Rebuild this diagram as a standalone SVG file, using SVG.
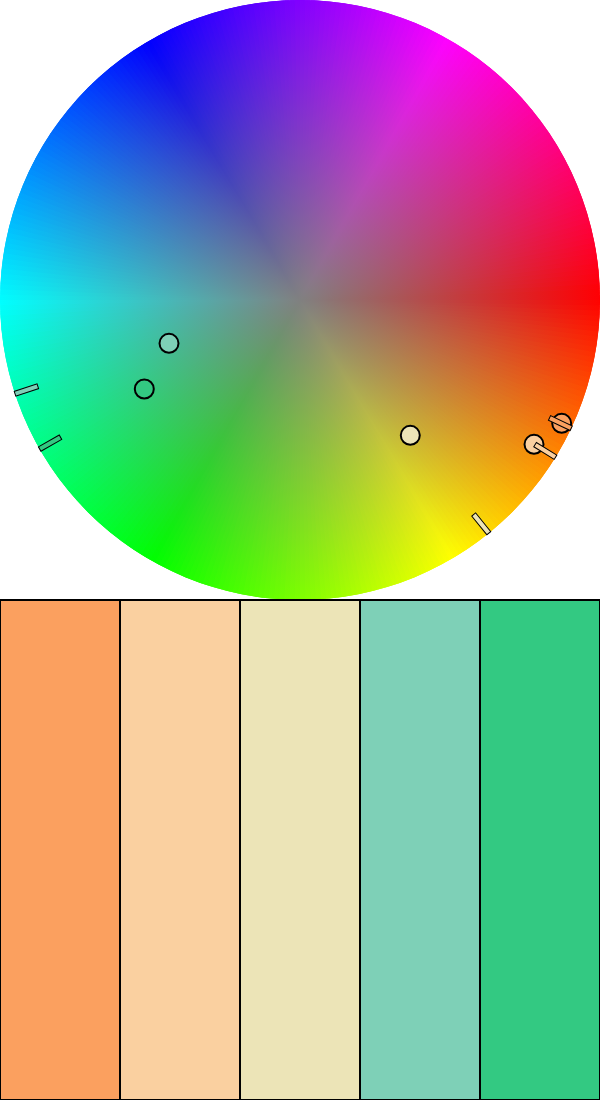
<svg xmlns="http://www.w3.org/2000/svg" xmlns:xlink="http://www.w3.org/1999/xlink" width="600" height="1100" viewBox="0 0 600 1100">
<style>
.mk{stroke:#000;stroke-width:2}
.bar{stroke:#000;stroke-width:1}
.sw{stroke:#000;stroke-width:2}
</style>
<defs>
<clipPath id="wc"><circle cx="300" cy="300" r="300"/></clipPath>
<radialGradient id="gray" cx="300" cy="300" r="300" gradientUnits="userSpaceOnUse">
<stop offset="0" stop-color="#808080" stop-opacity="1"/>
<stop offset="1" stop-color="#808080" stop-opacity="0"/>
</radialGradient>
<path id="w" d="M300,300L600.5,294.75A300.5,300.5 0 0 1 600.5,305.25Z"/>
</defs>

<g id="wheel" clip-path="url(#wc)">
<use href="#w" transform="rotate(0 300 300)" fill="hsl(0,100%,50%)"/>
<use href="#w" transform="rotate(1 300 300)" fill="hsl(1,100%,50%)"/>
<use href="#w" transform="rotate(2 300 300)" fill="hsl(2,100%,50%)"/>
<use href="#w" transform="rotate(3 300 300)" fill="hsl(3,100%,50%)"/>
<use href="#w" transform="rotate(4 300 300)" fill="hsl(4,100%,50%)"/>
<use href="#w" transform="rotate(5 300 300)" fill="hsl(5,100%,50%)"/>
<use href="#w" transform="rotate(6 300 300)" fill="hsl(6,100%,50%)"/>
<use href="#w" transform="rotate(7 300 300)" fill="hsl(7,100%,50%)"/>
<use href="#w" transform="rotate(8 300 300)" fill="hsl(8,100%,50%)"/>
<use href="#w" transform="rotate(9 300 300)" fill="hsl(9,100%,50%)"/>
<use href="#w" transform="rotate(10 300 300)" fill="hsl(10,100%,50%)"/>
<use href="#w" transform="rotate(11 300 300)" fill="hsl(11,100%,50%)"/>
<use href="#w" transform="rotate(12 300 300)" fill="hsl(12,100%,50%)"/>
<use href="#w" transform="rotate(13 300 300)" fill="hsl(13,100%,50%)"/>
<use href="#w" transform="rotate(14 300 300)" fill="hsl(14,100%,50%)"/>
<use href="#w" transform="rotate(15 300 300)" fill="hsl(15,100%,50%)"/>
<use href="#w" transform="rotate(16 300 300)" fill="hsl(16,100%,50%)"/>
<use href="#w" transform="rotate(17 300 300)" fill="hsl(17,100%,50%)"/>
<use href="#w" transform="rotate(18 300 300)" fill="hsl(18,100%,50%)"/>
<use href="#w" transform="rotate(19 300 300)" fill="hsl(19,100%,50%)"/>
<use href="#w" transform="rotate(20 300 300)" fill="hsl(20,100%,50%)"/>
<use href="#w" transform="rotate(21 300 300)" fill="hsl(21,100%,50%)"/>
<use href="#w" transform="rotate(22 300 300)" fill="hsl(22,100%,50%)"/>
<use href="#w" transform="rotate(23 300 300)" fill="hsl(23,100%,50%)"/>
<use href="#w" transform="rotate(24 300 300)" fill="hsl(24,100%,50%)"/>
<use href="#w" transform="rotate(25 300 300)" fill="hsl(25,100%,50%)"/>
<use href="#w" transform="rotate(26 300 300)" fill="hsl(26,100%,50%)"/>
<use href="#w" transform="rotate(27 300 300)" fill="hsl(27,100%,50%)"/>
<use href="#w" transform="rotate(28 300 300)" fill="hsl(28,100%,50%)"/>
<use href="#w" transform="rotate(29 300 300)" fill="hsl(29,100%,50%)"/>
<use href="#w" transform="rotate(30 300 300)" fill="hsl(30,100%,50%)"/>
<use href="#w" transform="rotate(31 300 300)" fill="hsl(31,100%,50%)"/>
<use href="#w" transform="rotate(32 300 300)" fill="hsl(32,100%,50%)"/>
<use href="#w" transform="rotate(33 300 300)" fill="hsl(33,100%,50%)"/>
<use href="#w" transform="rotate(34 300 300)" fill="hsl(34,100%,50%)"/>
<use href="#w" transform="rotate(35 300 300)" fill="hsl(35,100%,50%)"/>
<use href="#w" transform="rotate(36 300 300)" fill="hsl(36,100%,50%)"/>
<use href="#w" transform="rotate(37 300 300)" fill="hsl(37,100%,50%)"/>
<use href="#w" transform="rotate(38 300 300)" fill="hsl(38,100%,50%)"/>
<use href="#w" transform="rotate(39 300 300)" fill="hsl(39,100%,50%)"/>
<use href="#w" transform="rotate(40 300 300)" fill="hsl(40,100%,50%)"/>
<use href="#w" transform="rotate(41 300 300)" fill="hsl(41,100%,50%)"/>
<use href="#w" transform="rotate(42 300 300)" fill="hsl(42,100%,50%)"/>
<use href="#w" transform="rotate(43 300 300)" fill="hsl(43,100%,50%)"/>
<use href="#w" transform="rotate(44 300 300)" fill="hsl(44,100%,50%)"/>
<use href="#w" transform="rotate(45 300 300)" fill="hsl(45,100%,50%)"/>
<use href="#w" transform="rotate(46 300 300)" fill="hsl(46,100%,50%)"/>
<use href="#w" transform="rotate(47 300 300)" fill="hsl(47,100%,50%)"/>
<use href="#w" transform="rotate(48 300 300)" fill="hsl(48,100%,50%)"/>
<use href="#w" transform="rotate(49 300 300)" fill="hsl(49,100%,50%)"/>
<use href="#w" transform="rotate(50 300 300)" fill="hsl(50,100%,50%)"/>
<use href="#w" transform="rotate(51 300 300)" fill="hsl(51,100%,50%)"/>
<use href="#w" transform="rotate(52 300 300)" fill="hsl(52,100%,50%)"/>
<use href="#w" transform="rotate(53 300 300)" fill="hsl(53,100%,50%)"/>
<use href="#w" transform="rotate(54 300 300)" fill="hsl(54,100%,50%)"/>
<use href="#w" transform="rotate(55 300 300)" fill="hsl(55,100%,50%)"/>
<use href="#w" transform="rotate(56 300 300)" fill="hsl(56,100%,50%)"/>
<use href="#w" transform="rotate(57 300 300)" fill="hsl(57,100%,50%)"/>
<use href="#w" transform="rotate(58 300 300)" fill="hsl(58,100%,50%)"/>
<use href="#w" transform="rotate(59 300 300)" fill="hsl(59,100%,50%)"/>
<use href="#w" transform="rotate(60 300 300)" fill="hsl(60,100%,50%)"/>
<use href="#w" transform="rotate(61 300 300)" fill="hsl(61,100%,50%)"/>
<use href="#w" transform="rotate(62 300 300)" fill="hsl(62,100%,50%)"/>
<use href="#w" transform="rotate(63 300 300)" fill="hsl(63,100%,50%)"/>
<use href="#w" transform="rotate(64 300 300)" fill="hsl(64,100%,50%)"/>
<use href="#w" transform="rotate(65 300 300)" fill="hsl(65,100%,50%)"/>
<use href="#w" transform="rotate(66 300 300)" fill="hsl(66,100%,50%)"/>
<use href="#w" transform="rotate(67 300 300)" fill="hsl(67,100%,50%)"/>
<use href="#w" transform="rotate(68 300 300)" fill="hsl(68,100%,50%)"/>
<use href="#w" transform="rotate(69 300 300)" fill="hsl(69,100%,50%)"/>
<use href="#w" transform="rotate(70 300 300)" fill="hsl(70,100%,50%)"/>
<use href="#w" transform="rotate(71 300 300)" fill="hsl(71,100%,50%)"/>
<use href="#w" transform="rotate(72 300 300)" fill="hsl(72,100%,50%)"/>
<use href="#w" transform="rotate(73 300 300)" fill="hsl(73,100%,50%)"/>
<use href="#w" transform="rotate(74 300 300)" fill="hsl(74,100%,50%)"/>
<use href="#w" transform="rotate(75 300 300)" fill="hsl(75,100%,50%)"/>
<use href="#w" transform="rotate(76 300 300)" fill="hsl(76,100%,50%)"/>
<use href="#w" transform="rotate(77 300 300)" fill="hsl(77,100%,50%)"/>
<use href="#w" transform="rotate(78 300 300)" fill="hsl(78,100%,50%)"/>
<use href="#w" transform="rotate(79 300 300)" fill="hsl(79,100%,50%)"/>
<use href="#w" transform="rotate(80 300 300)" fill="hsl(80,100%,50%)"/>
<use href="#w" transform="rotate(81 300 300)" fill="hsl(81,100%,50%)"/>
<use href="#w" transform="rotate(82 300 300)" fill="hsl(82,100%,50%)"/>
<use href="#w" transform="rotate(83 300 300)" fill="hsl(83,100%,50%)"/>
<use href="#w" transform="rotate(84 300 300)" fill="hsl(84,100%,50%)"/>
<use href="#w" transform="rotate(85 300 300)" fill="hsl(85,100%,50%)"/>
<use href="#w" transform="rotate(86 300 300)" fill="hsl(86,100%,50%)"/>
<use href="#w" transform="rotate(87 300 300)" fill="hsl(87,100%,50%)"/>
<use href="#w" transform="rotate(88 300 300)" fill="hsl(88,100%,50%)"/>
<use href="#w" transform="rotate(89 300 300)" fill="hsl(89,100%,50%)"/>
<use href="#w" transform="rotate(90 300 300)" fill="hsl(90,100%,50%)"/>
<use href="#w" transform="rotate(91 300 300)" fill="hsl(91,100%,50%)"/>
<use href="#w" transform="rotate(92 300 300)" fill="hsl(92,100%,50%)"/>
<use href="#w" transform="rotate(93 300 300)" fill="hsl(93,100%,50%)"/>
<use href="#w" transform="rotate(94 300 300)" fill="hsl(94,100%,50%)"/>
<use href="#w" transform="rotate(95 300 300)" fill="hsl(95,100%,50%)"/>
<use href="#w" transform="rotate(96 300 300)" fill="hsl(96,100%,50%)"/>
<use href="#w" transform="rotate(97 300 300)" fill="hsl(97,100%,50%)"/>
<use href="#w" transform="rotate(98 300 300)" fill="hsl(98,100%,50%)"/>
<use href="#w" transform="rotate(99 300 300)" fill="hsl(99,100%,50%)"/>
<use href="#w" transform="rotate(100 300 300)" fill="hsl(100,100%,50%)"/>
<use href="#w" transform="rotate(101 300 300)" fill="hsl(101,100%,50%)"/>
<use href="#w" transform="rotate(102 300 300)" fill="hsl(102,100%,50%)"/>
<use href="#w" transform="rotate(103 300 300)" fill="hsl(103,100%,50%)"/>
<use href="#w" transform="rotate(104 300 300)" fill="hsl(104,100%,50%)"/>
<use href="#w" transform="rotate(105 300 300)" fill="hsl(105,100%,50%)"/>
<use href="#w" transform="rotate(106 300 300)" fill="hsl(106,100%,50%)"/>
<use href="#w" transform="rotate(107 300 300)" fill="hsl(107,100%,50%)"/>
<use href="#w" transform="rotate(108 300 300)" fill="hsl(108,100%,50%)"/>
<use href="#w" transform="rotate(109 300 300)" fill="hsl(109,100%,50%)"/>
<use href="#w" transform="rotate(110 300 300)" fill="hsl(110,100%,50%)"/>
<use href="#w" transform="rotate(111 300 300)" fill="hsl(111,100%,50%)"/>
<use href="#w" transform="rotate(112 300 300)" fill="hsl(112,100%,50%)"/>
<use href="#w" transform="rotate(113 300 300)" fill="hsl(113,100%,50%)"/>
<use href="#w" transform="rotate(114 300 300)" fill="hsl(114,100%,50%)"/>
<use href="#w" transform="rotate(115 300 300)" fill="hsl(115,100%,50%)"/>
<use href="#w" transform="rotate(116 300 300)" fill="hsl(116,100%,50%)"/>
<use href="#w" transform="rotate(117 300 300)" fill="hsl(117,100%,50%)"/>
<use href="#w" transform="rotate(118 300 300)" fill="hsl(118,100%,50%)"/>
<use href="#w" transform="rotate(119 300 300)" fill="hsl(119,100%,50%)"/>
<use href="#w" transform="rotate(120 300 300)" fill="hsl(120,100%,50%)"/>
<use href="#w" transform="rotate(121 300 300)" fill="hsl(121,100%,50%)"/>
<use href="#w" transform="rotate(122 300 300)" fill="hsl(122,100%,50%)"/>
<use href="#w" transform="rotate(123 300 300)" fill="hsl(123,100%,50%)"/>
<use href="#w" transform="rotate(124 300 300)" fill="hsl(124,100%,50%)"/>
<use href="#w" transform="rotate(125 300 300)" fill="hsl(125,100%,50%)"/>
<use href="#w" transform="rotate(126 300 300)" fill="hsl(126,100%,50%)"/>
<use href="#w" transform="rotate(127 300 300)" fill="hsl(127,100%,50%)"/>
<use href="#w" transform="rotate(128 300 300)" fill="hsl(128,100%,50%)"/>
<use href="#w" transform="rotate(129 300 300)" fill="hsl(129,100%,50%)"/>
<use href="#w" transform="rotate(130 300 300)" fill="hsl(130,100%,50%)"/>
<use href="#w" transform="rotate(131 300 300)" fill="hsl(131,100%,50%)"/>
<use href="#w" transform="rotate(132 300 300)" fill="hsl(132,100%,50%)"/>
<use href="#w" transform="rotate(133 300 300)" fill="hsl(133,100%,50%)"/>
<use href="#w" transform="rotate(134 300 300)" fill="hsl(134,100%,50%)"/>
<use href="#w" transform="rotate(135 300 300)" fill="hsl(135,100%,50%)"/>
<use href="#w" transform="rotate(136 300 300)" fill="hsl(136,100%,50%)"/>
<use href="#w" transform="rotate(137 300 300)" fill="hsl(137,100%,50%)"/>
<use href="#w" transform="rotate(138 300 300)" fill="hsl(138,100%,50%)"/>
<use href="#w" transform="rotate(139 300 300)" fill="hsl(139,100%,50%)"/>
<use href="#w" transform="rotate(140 300 300)" fill="hsl(140,100%,50%)"/>
<use href="#w" transform="rotate(141 300 300)" fill="hsl(141,100%,50%)"/>
<use href="#w" transform="rotate(142 300 300)" fill="hsl(142,100%,50%)"/>
<use href="#w" transform="rotate(143 300 300)" fill="hsl(143,100%,50%)"/>
<use href="#w" transform="rotate(144 300 300)" fill="hsl(144,100%,50%)"/>
<use href="#w" transform="rotate(145 300 300)" fill="hsl(145,100%,50%)"/>
<use href="#w" transform="rotate(146 300 300)" fill="hsl(146,100%,50%)"/>
<use href="#w" transform="rotate(147 300 300)" fill="hsl(147,100%,50%)"/>
<use href="#w" transform="rotate(148 300 300)" fill="hsl(148,100%,50%)"/>
<use href="#w" transform="rotate(149 300 300)" fill="hsl(149,100%,50%)"/>
<use href="#w" transform="rotate(150 300 300)" fill="hsl(150,100%,50%)"/>
<use href="#w" transform="rotate(151 300 300)" fill="hsl(151,100%,50%)"/>
<use href="#w" transform="rotate(152 300 300)" fill="hsl(152,100%,50%)"/>
<use href="#w" transform="rotate(153 300 300)" fill="hsl(153,100%,50%)"/>
<use href="#w" transform="rotate(154 300 300)" fill="hsl(154,100%,50%)"/>
<use href="#w" transform="rotate(155 300 300)" fill="hsl(155,100%,50%)"/>
<use href="#w" transform="rotate(156 300 300)" fill="hsl(156,100%,50%)"/>
<use href="#w" transform="rotate(157 300 300)" fill="hsl(157,100%,50%)"/>
<use href="#w" transform="rotate(158 300 300)" fill="hsl(158,100%,50%)"/>
<use href="#w" transform="rotate(159 300 300)" fill="hsl(159,100%,50%)"/>
<use href="#w" transform="rotate(160 300 300)" fill="hsl(160,100%,50%)"/>
<use href="#w" transform="rotate(161 300 300)" fill="hsl(161,100%,50%)"/>
<use href="#w" transform="rotate(162 300 300)" fill="hsl(162,100%,50%)"/>
<use href="#w" transform="rotate(163 300 300)" fill="hsl(163,100%,50%)"/>
<use href="#w" transform="rotate(164 300 300)" fill="hsl(164,100%,50%)"/>
<use href="#w" transform="rotate(165 300 300)" fill="hsl(165,100%,50%)"/>
<use href="#w" transform="rotate(166 300 300)" fill="hsl(166,100%,50%)"/>
<use href="#w" transform="rotate(167 300 300)" fill="hsl(167,100%,50%)"/>
<use href="#w" transform="rotate(168 300 300)" fill="hsl(168,100%,50%)"/>
<use href="#w" transform="rotate(169 300 300)" fill="hsl(169,100%,50%)"/>
<use href="#w" transform="rotate(170 300 300)" fill="hsl(170,100%,50%)"/>
<use href="#w" transform="rotate(171 300 300)" fill="hsl(171,100%,50%)"/>
<use href="#w" transform="rotate(172 300 300)" fill="hsl(172,100%,50%)"/>
<use href="#w" transform="rotate(173 300 300)" fill="hsl(173,100%,50%)"/>
<use href="#w" transform="rotate(174 300 300)" fill="hsl(174,100%,50%)"/>
<use href="#w" transform="rotate(175 300 300)" fill="hsl(175,100%,50%)"/>
<use href="#w" transform="rotate(176 300 300)" fill="hsl(176,100%,50%)"/>
<use href="#w" transform="rotate(177 300 300)" fill="hsl(177,100%,50%)"/>
<use href="#w" transform="rotate(178 300 300)" fill="hsl(178,100%,50%)"/>
<use href="#w" transform="rotate(179 300 300)" fill="hsl(179,100%,50%)"/>
<use href="#w" transform="rotate(180 300 300)" fill="hsl(180,100%,50%)"/>
<use href="#w" transform="rotate(181 300 300)" fill="hsl(181,100%,50%)"/>
<use href="#w" transform="rotate(182 300 300)" fill="hsl(182,100%,50%)"/>
<use href="#w" transform="rotate(183 300 300)" fill="hsl(183,100%,50%)"/>
<use href="#w" transform="rotate(184 300 300)" fill="hsl(184,100%,50%)"/>
<use href="#w" transform="rotate(185 300 300)" fill="hsl(185,100%,50%)"/>
<use href="#w" transform="rotate(186 300 300)" fill="hsl(186,100%,50%)"/>
<use href="#w" transform="rotate(187 300 300)" fill="hsl(187,100%,50%)"/>
<use href="#w" transform="rotate(188 300 300)" fill="hsl(188,100%,50%)"/>
<use href="#w" transform="rotate(189 300 300)" fill="hsl(189,100%,50%)"/>
<use href="#w" transform="rotate(190 300 300)" fill="hsl(190,100%,50%)"/>
<use href="#w" transform="rotate(191 300 300)" fill="hsl(191,100%,50%)"/>
<use href="#w" transform="rotate(192 300 300)" fill="hsl(192,100%,50%)"/>
<use href="#w" transform="rotate(193 300 300)" fill="hsl(193,100%,50%)"/>
<use href="#w" transform="rotate(194 300 300)" fill="hsl(194,100%,50%)"/>
<use href="#w" transform="rotate(195 300 300)" fill="hsl(195,100%,50%)"/>
<use href="#w" transform="rotate(196 300 300)" fill="hsl(196,100%,50%)"/>
<use href="#w" transform="rotate(197 300 300)" fill="hsl(197,100%,50%)"/>
<use href="#w" transform="rotate(198 300 300)" fill="hsl(198,100%,50%)"/>
<use href="#w" transform="rotate(199 300 300)" fill="hsl(199,100%,50%)"/>
<use href="#w" transform="rotate(200 300 300)" fill="hsl(200,100%,50%)"/>
<use href="#w" transform="rotate(201 300 300)" fill="hsl(201,100%,50%)"/>
<use href="#w" transform="rotate(202 300 300)" fill="hsl(202,100%,50%)"/>
<use href="#w" transform="rotate(203 300 300)" fill="hsl(203,100%,50%)"/>
<use href="#w" transform="rotate(204 300 300)" fill="hsl(204,100%,50%)"/>
<use href="#w" transform="rotate(205 300 300)" fill="hsl(205,100%,50%)"/>
<use href="#w" transform="rotate(206 300 300)" fill="hsl(206,100%,50%)"/>
<use href="#w" transform="rotate(207 300 300)" fill="hsl(207,100%,50%)"/>
<use href="#w" transform="rotate(208 300 300)" fill="hsl(208,100%,50%)"/>
<use href="#w" transform="rotate(209 300 300)" fill="hsl(209,100%,50%)"/>
<use href="#w" transform="rotate(210 300 300)" fill="hsl(210,100%,50%)"/>
<use href="#w" transform="rotate(211 300 300)" fill="hsl(211,100%,50%)"/>
<use href="#w" transform="rotate(212 300 300)" fill="hsl(212,100%,50%)"/>
<use href="#w" transform="rotate(213 300 300)" fill="hsl(213,100%,50%)"/>
<use href="#w" transform="rotate(214 300 300)" fill="hsl(214,100%,50%)"/>
<use href="#w" transform="rotate(215 300 300)" fill="hsl(215,100%,50%)"/>
<use href="#w" transform="rotate(216 300 300)" fill="hsl(216,100%,50%)"/>
<use href="#w" transform="rotate(217 300 300)" fill="hsl(217,100%,50%)"/>
<use href="#w" transform="rotate(218 300 300)" fill="hsl(218,100%,50%)"/>
<use href="#w" transform="rotate(219 300 300)" fill="hsl(219,100%,50%)"/>
<use href="#w" transform="rotate(220 300 300)" fill="hsl(220,100%,50%)"/>
<use href="#w" transform="rotate(221 300 300)" fill="hsl(221,100%,50%)"/>
<use href="#w" transform="rotate(222 300 300)" fill="hsl(222,100%,50%)"/>
<use href="#w" transform="rotate(223 300 300)" fill="hsl(223,100%,50%)"/>
<use href="#w" transform="rotate(224 300 300)" fill="hsl(224,100%,50%)"/>
<use href="#w" transform="rotate(225 300 300)" fill="hsl(225,100%,50%)"/>
<use href="#w" transform="rotate(226 300 300)" fill="hsl(226,100%,50%)"/>
<use href="#w" transform="rotate(227 300 300)" fill="hsl(227,100%,50%)"/>
<use href="#w" transform="rotate(228 300 300)" fill="hsl(228,100%,50%)"/>
<use href="#w" transform="rotate(229 300 300)" fill="hsl(229,100%,50%)"/>
<use href="#w" transform="rotate(230 300 300)" fill="hsl(230,100%,50%)"/>
<use href="#w" transform="rotate(231 300 300)" fill="hsl(231,100%,50%)"/>
<use href="#w" transform="rotate(232 300 300)" fill="hsl(232,100%,50%)"/>
<use href="#w" transform="rotate(233 300 300)" fill="hsl(233,100%,50%)"/>
<use href="#w" transform="rotate(234 300 300)" fill="hsl(234,100%,50%)"/>
<use href="#w" transform="rotate(235 300 300)" fill="hsl(235,100%,50%)"/>
<use href="#w" transform="rotate(236 300 300)" fill="hsl(236,100%,50%)"/>
<use href="#w" transform="rotate(237 300 300)" fill="hsl(237,100%,50%)"/>
<use href="#w" transform="rotate(238 300 300)" fill="hsl(238,100%,50%)"/>
<use href="#w" transform="rotate(239 300 300)" fill="hsl(239,100%,50%)"/>
<use href="#w" transform="rotate(240 300 300)" fill="hsl(240,100%,50%)"/>
<use href="#w" transform="rotate(241 300 300)" fill="hsl(241,100%,50%)"/>
<use href="#w" transform="rotate(242 300 300)" fill="hsl(242,100%,50%)"/>
<use href="#w" transform="rotate(243 300 300)" fill="hsl(243,100%,50%)"/>
<use href="#w" transform="rotate(244 300 300)" fill="hsl(244,100%,50%)"/>
<use href="#w" transform="rotate(245 300 300)" fill="hsl(245,100%,50%)"/>
<use href="#w" transform="rotate(246 300 300)" fill="hsl(246,100%,50%)"/>
<use href="#w" transform="rotate(247 300 300)" fill="hsl(247,100%,50%)"/>
<use href="#w" transform="rotate(248 300 300)" fill="hsl(248,100%,50%)"/>
<use href="#w" transform="rotate(249 300 300)" fill="hsl(249,100%,50%)"/>
<use href="#w" transform="rotate(250 300 300)" fill="hsl(250,100%,50%)"/>
<use href="#w" transform="rotate(251 300 300)" fill="hsl(251,100%,50%)"/>
<use href="#w" transform="rotate(252 300 300)" fill="hsl(252,100%,50%)"/>
<use href="#w" transform="rotate(253 300 300)" fill="hsl(253,100%,50%)"/>
<use href="#w" transform="rotate(254 300 300)" fill="hsl(254,100%,50%)"/>
<use href="#w" transform="rotate(255 300 300)" fill="hsl(255,100%,50%)"/>
<use href="#w" transform="rotate(256 300 300)" fill="hsl(256,100%,50%)"/>
<use href="#w" transform="rotate(257 300 300)" fill="hsl(257,100%,50%)"/>
<use href="#w" transform="rotate(258 300 300)" fill="hsl(258,100%,50%)"/>
<use href="#w" transform="rotate(259 300 300)" fill="hsl(259,100%,50%)"/>
<use href="#w" transform="rotate(260 300 300)" fill="hsl(260,100%,50%)"/>
<use href="#w" transform="rotate(261 300 300)" fill="hsl(261,100%,50%)"/>
<use href="#w" transform="rotate(262 300 300)" fill="hsl(262,100%,50%)"/>
<use href="#w" transform="rotate(263 300 300)" fill="hsl(263,100%,50%)"/>
<use href="#w" transform="rotate(264 300 300)" fill="hsl(264,100%,50%)"/>
<use href="#w" transform="rotate(265 300 300)" fill="hsl(265,100%,50%)"/>
<use href="#w" transform="rotate(266 300 300)" fill="hsl(266,100%,50%)"/>
<use href="#w" transform="rotate(267 300 300)" fill="hsl(267,100%,50%)"/>
<use href="#w" transform="rotate(268 300 300)" fill="hsl(268,100%,50%)"/>
<use href="#w" transform="rotate(269 300 300)" fill="hsl(269,100%,50%)"/>
<use href="#w" transform="rotate(270 300 300)" fill="hsl(270,100%,50%)"/>
<use href="#w" transform="rotate(271 300 300)" fill="hsl(271,100%,50%)"/>
<use href="#w" transform="rotate(272 300 300)" fill="hsl(272,100%,50%)"/>
<use href="#w" transform="rotate(273 300 300)" fill="hsl(273,100%,50%)"/>
<use href="#w" transform="rotate(274 300 300)" fill="hsl(274,100%,50%)"/>
<use href="#w" transform="rotate(275 300 300)" fill="hsl(275,100%,50%)"/>
<use href="#w" transform="rotate(276 300 300)" fill="hsl(276,100%,50%)"/>
<use href="#w" transform="rotate(277 300 300)" fill="hsl(277,100%,50%)"/>
<use href="#w" transform="rotate(278 300 300)" fill="hsl(278,100%,50%)"/>
<use href="#w" transform="rotate(279 300 300)" fill="hsl(279,100%,50%)"/>
<use href="#w" transform="rotate(280 300 300)" fill="hsl(280,100%,50%)"/>
<use href="#w" transform="rotate(281 300 300)" fill="hsl(281,100%,50%)"/>
<use href="#w" transform="rotate(282 300 300)" fill="hsl(282,100%,50%)"/>
<use href="#w" transform="rotate(283 300 300)" fill="hsl(283,100%,50%)"/>
<use href="#w" transform="rotate(284 300 300)" fill="hsl(284,100%,50%)"/>
<use href="#w" transform="rotate(285 300 300)" fill="hsl(285,100%,50%)"/>
<use href="#w" transform="rotate(286 300 300)" fill="hsl(286,100%,50%)"/>
<use href="#w" transform="rotate(287 300 300)" fill="hsl(287,100%,50%)"/>
<use href="#w" transform="rotate(288 300 300)" fill="hsl(288,100%,50%)"/>
<use href="#w" transform="rotate(289 300 300)" fill="hsl(289,100%,50%)"/>
<use href="#w" transform="rotate(290 300 300)" fill="hsl(290,100%,50%)"/>
<use href="#w" transform="rotate(291 300 300)" fill="hsl(291,100%,50%)"/>
<use href="#w" transform="rotate(292 300 300)" fill="hsl(292,100%,50%)"/>
<use href="#w" transform="rotate(293 300 300)" fill="hsl(293,100%,50%)"/>
<use href="#w" transform="rotate(294 300 300)" fill="hsl(294,100%,50%)"/>
<use href="#w" transform="rotate(295 300 300)" fill="hsl(295,100%,50%)"/>
<use href="#w" transform="rotate(296 300 300)" fill="hsl(296,100%,50%)"/>
<use href="#w" transform="rotate(297 300 300)" fill="hsl(297,100%,50%)"/>
<use href="#w" transform="rotate(298 300 300)" fill="hsl(298,100%,50%)"/>
<use href="#w" transform="rotate(299 300 300)" fill="hsl(299,100%,50%)"/>
<use href="#w" transform="rotate(300 300 300)" fill="hsl(300,100%,50%)"/>
<use href="#w" transform="rotate(301 300 300)" fill="hsl(301,100%,50%)"/>
<use href="#w" transform="rotate(302 300 300)" fill="hsl(302,100%,50%)"/>
<use href="#w" transform="rotate(303 300 300)" fill="hsl(303,100%,50%)"/>
<use href="#w" transform="rotate(304 300 300)" fill="hsl(304,100%,50%)"/>
<use href="#w" transform="rotate(305 300 300)" fill="hsl(305,100%,50%)"/>
<use href="#w" transform="rotate(306 300 300)" fill="hsl(306,100%,50%)"/>
<use href="#w" transform="rotate(307 300 300)" fill="hsl(307,100%,50%)"/>
<use href="#w" transform="rotate(308 300 300)" fill="hsl(308,100%,50%)"/>
<use href="#w" transform="rotate(309 300 300)" fill="hsl(309,100%,50%)"/>
<use href="#w" transform="rotate(310 300 300)" fill="hsl(310,100%,50%)"/>
<use href="#w" transform="rotate(311 300 300)" fill="hsl(311,100%,50%)"/>
<use href="#w" transform="rotate(312 300 300)" fill="hsl(312,100%,50%)"/>
<use href="#w" transform="rotate(313 300 300)" fill="hsl(313,100%,50%)"/>
<use href="#w" transform="rotate(314 300 300)" fill="hsl(314,100%,50%)"/>
<use href="#w" transform="rotate(315 300 300)" fill="hsl(315,100%,50%)"/>
<use href="#w" transform="rotate(316 300 300)" fill="hsl(316,100%,50%)"/>
<use href="#w" transform="rotate(317 300 300)" fill="hsl(317,100%,50%)"/>
<use href="#w" transform="rotate(318 300 300)" fill="hsl(318,100%,50%)"/>
<use href="#w" transform="rotate(319 300 300)" fill="hsl(319,100%,50%)"/>
<use href="#w" transform="rotate(320 300 300)" fill="hsl(320,100%,50%)"/>
<use href="#w" transform="rotate(321 300 300)" fill="hsl(321,100%,50%)"/>
<use href="#w" transform="rotate(322 300 300)" fill="hsl(322,100%,50%)"/>
<use href="#w" transform="rotate(323 300 300)" fill="hsl(323,100%,50%)"/>
<use href="#w" transform="rotate(324 300 300)" fill="hsl(324,100%,50%)"/>
<use href="#w" transform="rotate(325 300 300)" fill="hsl(325,100%,50%)"/>
<use href="#w" transform="rotate(326 300 300)" fill="hsl(326,100%,50%)"/>
<use href="#w" transform="rotate(327 300 300)" fill="hsl(327,100%,50%)"/>
<use href="#w" transform="rotate(328 300 300)" fill="hsl(328,100%,50%)"/>
<use href="#w" transform="rotate(329 300 300)" fill="hsl(329,100%,50%)"/>
<use href="#w" transform="rotate(330 300 300)" fill="hsl(330,100%,50%)"/>
<use href="#w" transform="rotate(331 300 300)" fill="hsl(331,100%,50%)"/>
<use href="#w" transform="rotate(332 300 300)" fill="hsl(332,100%,50%)"/>
<use href="#w" transform="rotate(333 300 300)" fill="hsl(333,100%,50%)"/>
<use href="#w" transform="rotate(334 300 300)" fill="hsl(334,100%,50%)"/>
<use href="#w" transform="rotate(335 300 300)" fill="hsl(335,100%,50%)"/>
<use href="#w" transform="rotate(336 300 300)" fill="hsl(336,100%,50%)"/>
<use href="#w" transform="rotate(337 300 300)" fill="hsl(337,100%,50%)"/>
<use href="#w" transform="rotate(338 300 300)" fill="hsl(338,100%,50%)"/>
<use href="#w" transform="rotate(339 300 300)" fill="hsl(339,100%,50%)"/>
<use href="#w" transform="rotate(340 300 300)" fill="hsl(340,100%,50%)"/>
<use href="#w" transform="rotate(341 300 300)" fill="hsl(341,100%,50%)"/>
<use href="#w" transform="rotate(342 300 300)" fill="hsl(342,100%,50%)"/>
<use href="#w" transform="rotate(343 300 300)" fill="hsl(343,100%,50%)"/>
<use href="#w" transform="rotate(344 300 300)" fill="hsl(344,100%,50%)"/>
<use href="#w" transform="rotate(345 300 300)" fill="hsl(345,100%,50%)"/>
<use href="#w" transform="rotate(346 300 300)" fill="hsl(346,100%,50%)"/>
<use href="#w" transform="rotate(347 300 300)" fill="hsl(347,100%,50%)"/>
<use href="#w" transform="rotate(348 300 300)" fill="hsl(348,100%,50%)"/>
<use href="#w" transform="rotate(349 300 300)" fill="hsl(349,100%,50%)"/>
<use href="#w" transform="rotate(350 300 300)" fill="hsl(350,100%,50%)"/>
<use href="#w" transform="rotate(351 300 300)" fill="hsl(351,100%,50%)"/>
<use href="#w" transform="rotate(352 300 300)" fill="hsl(352,100%,50%)"/>
<use href="#w" transform="rotate(353 300 300)" fill="hsl(353,100%,50%)"/>
<use href="#w" transform="rotate(354 300 300)" fill="hsl(354,100%,50%)"/>
<use href="#w" transform="rotate(355 300 300)" fill="hsl(355,100%,50%)"/>
<use href="#w" transform="rotate(356 300 300)" fill="hsl(356,100%,50%)"/>
<use href="#w" transform="rotate(357 300 300)" fill="hsl(357,100%,50%)"/>
<use href="#w" transform="rotate(358 300 300)" fill="hsl(358,100%,50%)"/>
<use href="#w" transform="rotate(359 300 300)" fill="hsl(359,100%,50%)"/>
<circle cx="300" cy="300" r="300" fill="url(#gray)"/>
</g>

<g id="marker-orange">
<circle class="mk" cx="561.7" cy="423.3" r="9.5" fill="#FBA05F"/>
<rect class="bar" transform="translate(300,300) rotate(25.3)" x="276" y="-2.5" width="24" height="5" fill="#FBA05F"/>
</g>
<g id="marker-peach">
<circle class="mk" cx="534" cy="444.3" r="9.5" fill="#FAD0A0"/>
<rect class="bar" transform="translate(300,300) rotate(31.6)" x="276" y="-2.5" width="24" height="5" fill="#FAD0A0"/>
</g>
<g id="marker-cream">
<circle class="mk" cx="410.3" cy="435.3" r="9.5" fill="#ECE4B7"/>
<rect class="bar" transform="translate(300,300) rotate(51)" x="276" y="-2.5" width="24" height="5" fill="#ECE4B7"/>
</g>
<g id="marker-teal">
<circle class="mk" cx="169" cy="343.3" r="9.5" fill="#7ED0B7"/>
<rect class="bar" transform="translate(300,300) rotate(161.8)" x="276" y="-2.5" width="24" height="5" fill="#7ED0B7"/>
</g>
<g id="marker-green">
<circle class="mk" cx="144.3" cy="389" r="9.5" fill="#33C982"/>
<rect class="bar" transform="translate(300,300) rotate(150.2)" x="276" y="-2.5" width="24" height="5" fill="#33C982"/>
</g>

<g id="swatches">
<g id="swatch-1"><rect class="sw" x="0" y="600" width="120" height="500" fill="#FBA05F"/></g>
<g id="swatch-2"><rect class="sw" x="120" y="600" width="120" height="500" fill="#FAD0A0"/></g>
<g id="swatch-3"><rect class="sw" x="240" y="600" width="120" height="500" fill="#ECE4B7"/></g>
<g id="swatch-4"><rect class="sw" x="360" y="600" width="120" height="500" fill="#7ED0B7"/></g>
<g id="swatch-5"><rect class="sw" x="480" y="600" width="120" height="500" fill="#33C982"/></g>
</g>
</svg>
